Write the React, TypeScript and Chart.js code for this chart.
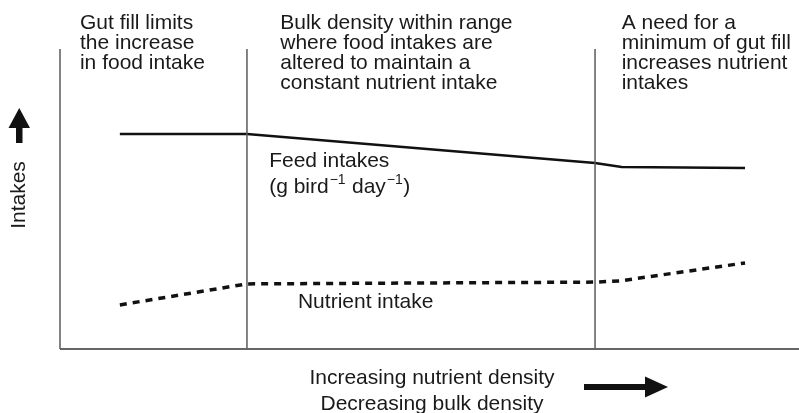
import React, { useEffect, useRef } from "react";
import { Chart, registerables } from "chart.js";

Chart.register(...registerables);

// Conceptual x units (nutrient density) and y units (intake)
const feedX = [0.81, 2.53, 7.24, 7.6, 9.27];
const feedY = [7.17, 7.17, 6.2, 6.07, 6.03];
const nutrientX = [0.81, 2.53, 7.24, 7.58, 9.27];
const nutrientY = [1.47, 2.17, 2.23, 2.27, 2.87];
const boundaryX = [2.53, 7.24];
const axisMaxX = 10;
const axisMaxY = 10;

const zoneTexts = [
  ["Gut fill limits", "the increase", "in food intake"],
  ["Bulk density within range", "where food intakes are", "altered to maintain a", "constant nutrient intake"],
  ["A need for a", "minimum of gut fill", "increases nutrient", "intakes"],
];
const zoneTextX = [0.27, 2.98, 7.6];
const yAxisTitle = "Intakes";
const xAxisTitle = ["Increasing nutrient density", "Decreasing bulk density"];
const feedLabel = "Feed intakes";
const nutrientLabel = "Nutrient intake";

const FONT = '"Liberation Sans", Arial, Helvetica, sans-serif';
const FS = 21;

const textPlugin = {
  id: "texts",
  afterDraw(chart: any) {
    const ctx = chart.ctx as CanvasRenderingContext2D;
    const xs = chart.scales.x;
    const ys = chart.scales.y;
    const area = chart.chartArea;
    ctx.save();
    ctx.fillStyle = "#1a1a1a";
    ctx.font = `${FS}px ${FONT}`;
    ctx.textBaseline = "alphabetic";
    ctx.textAlign = "left";
    // zone texts above plot
    zoneTexts.forEach((lines, i) => {
      const x = xs.getPixelForValue(zoneTextX[i]);
      lines.forEach((ln, j) => {
        ctx.fillText(ln, x, area.top - 20.5 + j * 20.3);
      });
    });
    // Feed intakes label
    const fx = xs.getPixelForValue(2.83);
    const fy = ys.getPixelForValue(6.07);
    ctx.fillText(feedLabel, fx, fy);
    // (g bird^-1 day^-1)
    let cx = fx;
    const by = fy + 26.5;
    const parts: [string, boolean][] = [
      ["(g bird", false],
      ["\u22121", true],
      [" day", false],
      ["\u22121", true],
      [")", false],
    ];
    parts.forEach(([t, sup]) => {
      if (sup) {
        ctx.font = `14px ${FONT}`;
        ctx.fillText(t, cx + 1, by - 9);
        cx += ctx.measureText(t).width + 1.5;
        ctx.font = `${FS}px ${FONT}`;
      } else {
        ctx.fillText(t, cx, by);
        cx += ctx.measureText(t).width;
      }
    });
    // Nutrient intake label
    ctx.fillText(nutrientLabel, xs.getPixelForValue(3.22), ys.getPixelForValue(1.37));

    // X axis title
    ctx.textAlign = "center";
    const tx = 432;
    ctx.fillText(xAxisTitle[0], tx, area.bottom + 35);
    ctx.fillText(xAxisTitle[1], tx, area.bottom + 61);

    // right arrow
    ctx.fillStyle = "#111";
    ctx.fillRect(584, 384, 62, 6);
    ctx.beginPath();
    ctx.moveTo(645, 376.5);
    ctx.lineTo(668, 387);
    ctx.lineTo(645, 397.5);
    ctx.closePath();
    ctx.fill();

    // Y axis title (rotated)
    ctx.fillStyle = "#1a1a1a";
    ctx.save();
    ctx.translate(25, 195);
    ctx.rotate(-Math.PI / 2);
    ctx.textAlign = "center";
    ctx.fillText(yAxisTitle, 0, 0);
    ctx.restore();

    // up arrow
    ctx.fillStyle = "#111";
    ctx.fillRect(16, 126, 6.5, 17);
    ctx.beginPath();
    ctx.moveTo(19.25, 108);
    ctx.lineTo(30, 128);
    ctx.lineTo(8.5, 128);
    ctx.closePath();
    ctx.fill();
    ctx.restore();
  },
};

export default function App() {
  const ref = useRef<HTMLCanvasElement | null>(null);
  useEffect(() => {
    if (!ref.current) return;
    const pts = (xa: number[], ya: number[]) => xa.map((x, i) => ({ x, y: ya[i] }));
    const frameStyle = {
      borderColor: "#5a5a5a",
      borderWidth: 1.5,
      pointRadius: 0,
      clip: false as any,
      fill: false,
    };
    const chart = new Chart(ref.current, {
      type: "line",
      data: {
        datasets: [
          { ...frameStyle, data: [{ x: 0, y: 0 }, { x: 0, y: axisMaxY }] },
          { ...frameStyle, borderWidth: 2, borderColor: "#666", data: [{ x: 0, y: 0 }, { x: axisMaxX, y: 0 }] },
          ...boundaryX.map((bx) => ({ ...frameStyle, data: [{ x: bx, y: 0 }, { x: bx, y: axisMaxY }] })),
          {
            data: pts(feedX, feedY),
            borderColor: "#111",
            borderWidth: 2.5,
            pointRadius: 0,
            tension: 0,
            clip: false as any,
          },
          {
            data: pts(nutrientX, nutrientY),
            borderColor: "#111",
            borderWidth: 3.5,
            borderDash: [7, 6],
            pointRadius: 0,
            tension: 0,
            clip: false as any,
          },
        ] as any,
      },
      options: {
        animation: false,
        responsive: false,
        devicePixelRatio: 1,
        layout: { padding: { left: 60, right: 0, top: 49, bottom: 64 } },
        plugins: { legend: { display: false }, tooltip: { enabled: false } },
        scales: {
          x: { type: "linear", min: 0, max: axisMaxX, display: false },
          y: { type: "linear", min: 0, max: axisMaxY, display: false },
        },
      },
      plugins: [textPlugin],
    });
    return () => chart.destroy();
  }, []);
  return (
    <div style={{ position: "fixed", left: 0, top: 0, width: 799, height: 413, background: "#fff" }}>
      <canvas ref={ref} width={799} height={413} style={{ width: 799, height: 413, display: "block" }} />
    </div>
  );
}
